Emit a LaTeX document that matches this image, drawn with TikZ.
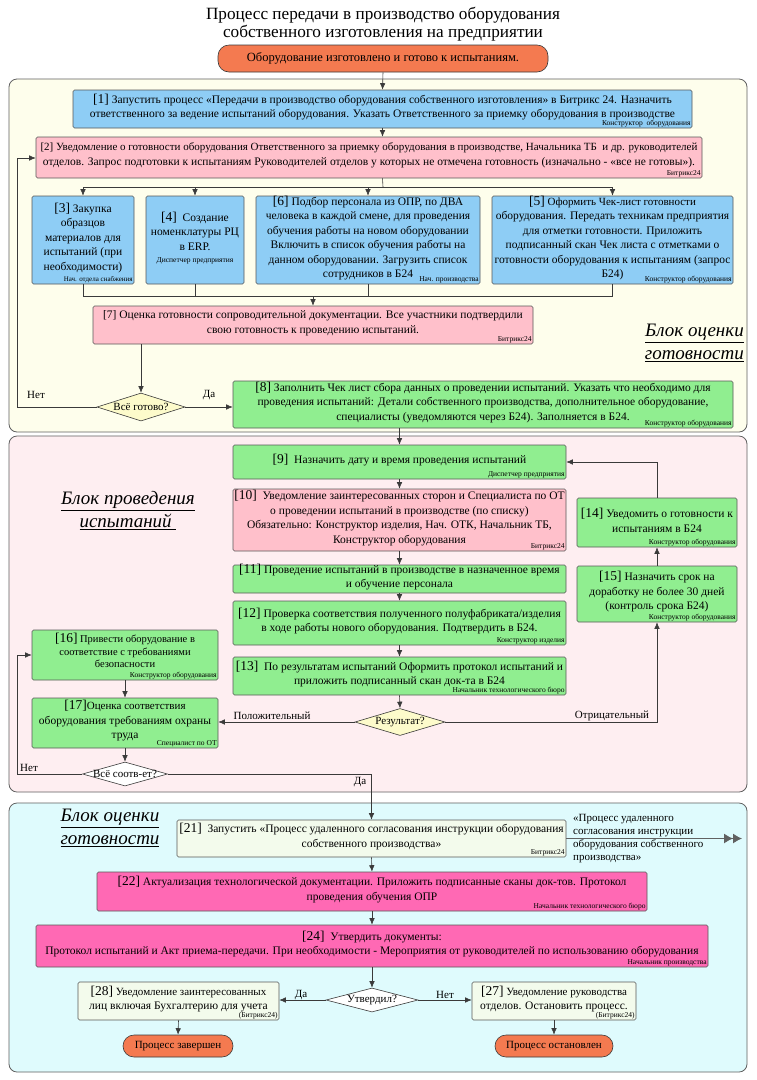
\documentclass[tikz,border=0pt]{standalone}
\usepackage{fontspec}
\setmainfont{Liberation Serif}
\usetikzlibrary{arrows.meta,shapes.geometric,calc}
\definecolor{cBlue}{HTML}{8ECDF5}
\definecolor{cPink}{HTML}{FFC0CB}
\definecolor{cGreen}{HTML}{90EE90}
\definecolor{cHot}{HTML}{FF69B4}
\definecolor{cOrange}{HTML}{F47A50}
\definecolor{cPale}{HTML}{F3FBEC}
\definecolor{cDiaY}{HTML}{FDFBCB}
\definecolor{bgA}{HTML}{FEFEEC}
\definecolor{bgB}{HTML}{FEEEF1}
\definecolor{bgC}{HTML}{DFFBFD}
\definecolor{cLine}{HTML}{3A3A3A}
\newcommand{\fsN}{\fontsize{11.5}{14.5}\selectfont}
\newcommand{\fsS}{\fontsize{11}{14}\selectfont}
\newcommand{\fsR}{\fontsize{7.5}{8.5}\selectfont}
\newcommand{\bn}[1]{{\fontsize{13.5}{14}\selectfont[#1]}}
\newcommand{\mybox}[7]{%
  \node[box, fill=#6, minimum width={#4-#2}, minimum height={#5-#3}] (#1) at ({(#2+#4)/2},{(#3+#5)/2}) {};
  \node[btext] (#1t) at ([yshift=2pt]#1.center) {#7};}
\newcommand{\rolel}[2]{\node[role] (#1r) at ([xshift=-1.5pt,yshift=1.2pt]#1.south east) {#2};}
\begin{document}
\begin{tikzpicture}[x=1pt,y=-1pt,
  box/.style={draw=cLine!85, rounded corners=1.5pt, line width=0.6pt, inner sep=0pt},
  btext/.style={align=center, font=\fsN, inner sep=0pt},
  role/.style={font=\fsR, inner sep=0pt, anchor=south east},
  dia/.style={diamond, draw=cLine, line width=0.6pt, inner sep=0pt},
  dtext/.style={font=\fsS, inner sep=0pt},
  term/.style={draw=cLine, line width=0.6pt, fill=cOrange, rounded corners=11pt, font=\fsS, inner sep=0pt},
  arr/.style={draw=cLine, line width=0.6pt, -{Latex[length=6.5pt,width=5.5pt]}},
  arrD/.style={draw=cLine!80, line width=1pt, -{Latex[length=9pt,width=10pt]Latex[length=9pt,width=10pt]}},
  ln/.style={draw=cLine, line width=0.6pt},
  blk/.style={draw=gray!75!black, rounded corners=8pt, line width=0.8pt},
  lbl/.style={font=\fsS, inner sep=0pt},
  blab/.style={font=\fontsize{19}{23}\selectfont\itshape, inner sep=0pt}]
\useasboundingbox (0,0) rectangle (757,1080);
\fill[white] (0,0) rectangle (757,1080);
% blocks
\draw[blk, fill=bgA] (9,79) rectangle (747,432);
\draw[blk, fill=bgB] (9,436) rectangle (747,792);
\draw[blk, fill=bgC] (9,803) rectangle (747,1072);
% title
\node[font=\fontsize{17.2}{18.5}\selectfont, align=center, inner sep=0pt] (title) at (383,24) {Процесс передачи в производство оборудования\\собственного изготовления на предприятии};
\node[term, minimum width=330, minimum height=27, font=\fontsize{12.5}{14}\selectfont] (st) at (383,58.5) {Оборудование изготовлено и готово к испытаниям.};
% block 1
\mybox{b1}{73}{90}{692}{128}{cBlue}{\bn{1} Запустить процесс «Передачи в производство оборудования собственного изготовления» в Битрикс 24. Назначить\\ответственного за ведение испытаний оборудования. Указать Ответственного за приемку оборудования в производстве}
\rolel{b1}{Конструктор~ оборудования}
\mybox{b2}{36}{137}{702}{178}{cPink}{\fsS[2] Уведомление о готовности оборудования Ответственного за приемку оборудования в производстве, Начальника ТБ~ и др. руководителей\\отделов. Запрос подготовки к испытаниям Руководителей отделов у которых не отмечена готовность (изначально - «все не готовы»).}
\rolel{b2}{Битрикс24}
\mybox{b3}{32}{196}{134}{284}{cBlue}{\bn{3} Закупка\\образцов\\материалов для\\испытаний (при\\необходимости)}
\node[role, font=\fontsize{7}{8}\selectfont] (b3r) at ([xshift=-1.5pt,yshift=1.2pt]b3.south east) {Нач. отдела снабжения};
\mybox{b4}{146}{196}{244}{284}{cBlue}{\bn{4}~ Создание\\номенклатуры РЦ\\в ERP.\\[-2pt]{\fsR Диспетчер предприятия}}
\mybox{b6}{256}{196}{480}{284}{cBlue}{\bn{6} Подбор персонала из ОПР, по ДВА\\человека в каждой смене, для проведения\\обучения работы на новом оборудовании\\Включить в список обучения работы на\\данном оборудовании. Загрузить список\\сотрудников в Б24}
\rolel{b6}{Нач. производства}
\mybox{b5}{492}{196}{733}{284}{cBlue}{\fsS\bn{5} Оформить Чек-лист готовности\\оборудования. Передать техникам предприятия\\для отметки готовности. Приложить\\подписанный скан Чек листа с отметками о\\готовности оборудования к испытаниям (запрос\\Б24)}
\rolel{b5}{Конструктор оборудования}
\mybox{b7}{93}{306}{533}{344}{cPink}{[7] Оценка готовности сопроводительной документации. Все участники подтвердили\\свою готовность к проведению испытаний.}
\rolel{b7}{Битрикс24}
\mybox{b8}{233}{381}{733}{428}{cGreen}{\bn{8} Заполнить Чек лист сбора данных о проведении испытаний. Указать что необходимо для\\проведения испытаний: Детали собственного производства, дополнительное оборудование,\\специалисты (уведомляются через Б24). Заполняется в Б24.}
\rolel{b8}{Конструктор оборудования}
\node[dia, fill=cDiaY, minimum width=88, minimum height=28] (d1) at (141,407) {};
\node[dtext] (d1t) at (d1.center) {Всё готово?};
\node[blab, anchor=east, align=right] (la) at (744,343) {\underline{Блок оценки}\\\underline{готовности}};
% block 2
\mybox{b9}{233}{445}{566}{479}{cGreen}{\bn{9}~ Назначить дату и время проведения испытаний}
\rolel{b9}{Диспетчер предприятия}
\mybox{b10}{233}{489}{566}{551}{cPink}{\bn{10}~ Уведомление заинтересованных сторон и Специалиста по ОТ\\о проведении испытаний в производстве (по списку)\\Обязательно: Конструктор изделия, Нач. ОТК, Начальник ТБ,\\Конструктор оборудования}
\rolel{b10}{Битрикс24}
\mybox{b11}{233}{565}{566}{593}{cGreen}{\bn{11} Проведение испытаний в производстве в назначенное время\\и обучение персонала}
\mybox{b12}{233}{601}{566}{645}{cGreen}{\bn{12} Проверка соответствия полученного полуфабриката/изделия\\в ходе работы нового оборудования. Подтвердить в Б24.}
\rolel{b12}{Конструктор изделия}
\mybox{b13}{233}{657}{566}{695}{cGreen}{\bn{13}~ По результатам испытаний Оформить протокол испытаний и\\приложить подписанный скан док-та в Б24}
\rolel{b13}{Начальник технологического бюро}
\mybox{b14}{577}{498}{737}{547}{cGreen}{\bn{14} Уведомить о готовности к\\испытаниям в Б24}
\rolel{b14}{Конструктор оборудования}
\mybox{b15}{577}{566}{737}{622}{cGreen}{\bn{15} Назначить срок на\\доработку не более 30 дней\\(контроль срока Б24)}
\rolel{b15}{Конструктор оборудования}
\node[box, fill=cGreen, minimum width=186, minimum height=50] (b16) at (125,655) {};
\node[btext, font=\fontsize{10.5}{12.5}\selectfont] (b16t) at ([yshift=4.5pt]b16.center) {\bn{16} Привести оборудование в\\соответствие с требованиями\\безопасности};
\rolel{b16}{Конструктор оборудования}
\mybox{b17}{32}{698}{218}{748}{cGreen}{\fsS\bn{17}Оценка соответствия\\оборудования требованиям охраны\\труда}
\rolel{b17}{Специалист по ОТ}
\node[dia, fill=cDiaY, minimum width=90, minimum height=27] (dr) at (400,722) {};
\node[dtext] (drt) at (dr.center) {Результат?};
\node[dia, fill=white, minimum width=85, minimum height=24] (dd) at (125,774) {};
\node[dtext] (ddt) at (dd.center) {Всё соотв-ет?};
\node[blab, align=center] (lb) at (128,511) {\underline{Блок проведения}\\\underline{испытаний~}};
% block 3
\node[blab, align=center] (lc) at (110,828) {\underline{Блок оценки}\\\underline{готовности}};
\mybox{b21}{177}{820}{566}{857}{cPale}{\bn{21}~ Запустить «Процесс удаленного согласования инструкции оборудования\\собственного производства»}
\rolel{b21}{Битрикс24}
\node[font=\fontsize{11}{13}\selectfont, align=left, anchor=west, inner sep=0pt] (sx) at (573,839) {«Процесс удаленного\\согласования инструкции\\оборудования собственного\\производства»};
\mybox{b22}{97}{872}{647}{911}{cHot}{\bn{22} Актуализация технологической документации. Приложить подписанные сканы док-тов. Протокол\\проведения обучения ОПР}
\rolel{b22}{Начальник технологического бюро}
\mybox{b24}{36}{925}{708}{967}{cHot}{\bn{24}~ Утвердить документы:\\Протокол испытаний и Акт приема-передачи. При необходимости - Мероприятия от руководителей по использованию оборудования}
\rolel{b24}{Начальник производства}
\node[dia, fill=white, minimum width=92, minimum height=24] (d3) at (372,1000) {};
\node[dtext] (d3t) at (d3.center) {Утвердил?};
\mybox{b28}{78}{982}{279}{1020}{cPale}{\fsS\bn{28} Уведомление заинтересованных\\лиц включая Бухгалтерию для учета}
\rolel{b28}{(Битрикс24)}
\mybox{b27}{472}{982}{636}{1020}{cPale}{\fsS\bn{27} Уведомление руководства\\отделов. Остановить процесс.}
\rolel{b27}{(Битрикс24)}
\node[term, minimum width=110, minimum height=22] (e1) at (178,1046) {Процесс завершен};
\node[term, minimum width=118, minimum height=22] (e2) at (554,1046) {Процесс остановлен};
% connectors block 1
\draw[arr] (st.south) -- (b1.north);
\draw[arr] (b1.south) -- (b1.south |- b2.north);
\coordinate (sp) at (383,187);
\draw[ln] (b1.south |- b2.south) -- (sp);
\draw[ln] (sp -| b3.north) -- (sp -| b5.north);
\foreach \b in {b3,b4,b6,b5} \draw[arr] (sp -| \b.north) -- (\b.north);
\coordinate (mg) at (313,296);
\foreach \b in {b3,b4,b6,b5} \draw[ln] (\b.south) -- (\b.south |- mg);
\draw[ln] (mg -| b3.south) -- (mg -| b5.south);
\draw[arr] (mg) -- (mg |- b7.north);
\draw[arr] (d1.north |- b7.south) -- (d1.north);
\draw[arr] (d1.east) -- (d1.east -| b8.west);
\node[lbl] (lda1) at (209,395) {Да};
\coordinate (lp1) at (17,158);
\draw[arr] (d1.west) -- (d1.west -| lp1) -- (lp1) -- (lp1 -| b2.west);
\node[lbl] (lnet1) at (36,395) {Нет};
% block 2 connectors
\draw[arr] (b9.north |- b8.south) -- (b9.north);
\draw[arr] (b9.south) -- (b10.north);
\draw[arr] (b10.south) -- (b11.north);
\draw[arr] (b11.south) -- (b12.north);
\draw[arr] (b12.south) -- (b13.north);
\draw[arr] (b13.south) -- (dr.north);
\draw[arr] (dr.west) -- (dr.west -| b17.east);
\node[lbl] (lpos) at (272,716) {Положительный};
\draw[arr] (dr.east) -- (dr.east -| b15.south) -- (b15.south);
\node[lbl] (lneg) at (612,716) {Отрицательный};
\draw[arr] (b15.north) -- (b14.south);
\draw[arr] (b14.north) -- (b14.north |- b9.east) -- (b9.east);
\draw[arr] (b16.south) -- (b17.north);
\draw[arr] (b17.south) -- (dd.north);
\coordinate (lp2) at (17,655);
\draw[arr] (dd.west) -- (dd.west -| lp2) -- (lp2) -- (lp2 -| b16.west);
\node[lbl] (lnet2) at (29,768) {Нет};
\draw[arr] (dd.east) -- (dd.east -| b21.north) -- (b21.north);
\node[lbl] (lda2) at (360,782) {Да};
% block 3 connectors
\coordinate (ex) at (742,838.5);
\draw[arrD] (b21.east) -- (ex);
\draw[arr] (b21.south) -- (b22.north);
\draw[arr] (b22.south) -- (b24.north);
\draw[arr] (b24.south) -- (d3.north);
\draw[arr] (d3.west) -- (d3.west -| b28.east);
\node[lbl] (lda3) at (301,995) {Да};
\draw[arr] (d3.east) -- (d3.east -| b27.west);
\node[lbl] (lnet3) at (445,995) {Нет};
\draw[arr] (b28.south) -- (e1.north);
\draw[arr] (b27.south) -- (e2.north);
\end{tikzpicture}
\end{document}
